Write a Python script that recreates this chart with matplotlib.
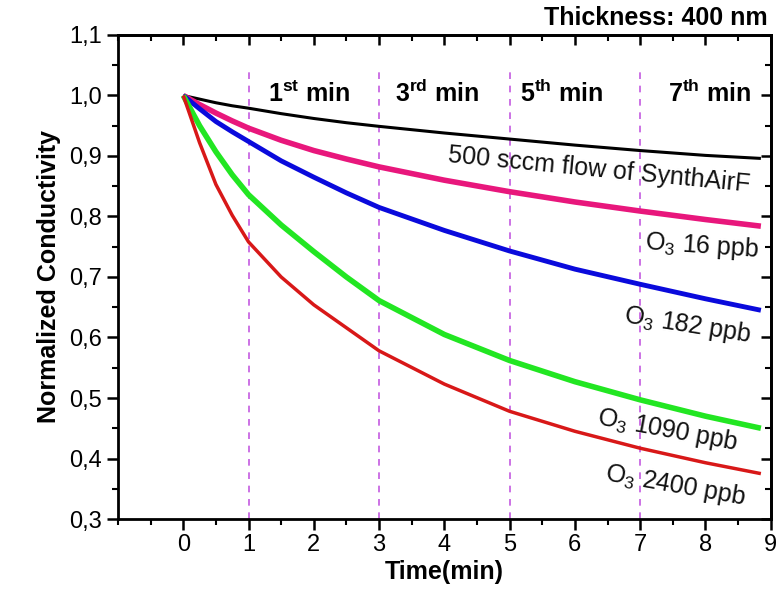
import matplotlib
matplotlib.use("Agg")
import matplotlib.pyplot as plt
from matplotlib.ticker import MultipleLocator, FuncFormatter

plt.rcParams['font.family'] = ['Liberation Sans', 'DejaVu Sans']
plt.rcParams['mathtext.fontset'] = 'custom'
plt.rcParams['mathtext.rm'] = 'Liberation Sans'
plt.rcParams['mathtext.it'] = 'Liberation Sans:italic'
plt.rcParams['mathtext.bf'] = 'Liberation Sans:bold'

# ---- data ----
time = [0, 0.25, 0.5, 0.75, 1, 1.5, 2, 2.5, 3, 4, 5, 6, 7, 8, 8.85]
synth_air = [1.0, 0.994, 0.988, 0.983, 0.979, 0.970, 0.962, 0.955, 0.949, 0.938, 0.928, 0.918, 0.909, 0.901, 0.896]
o3_16 = [1.0, 0.985, 0.971, 0.958, 0.946, 0.926, 0.909, 0.895, 0.882, 0.860, 0.841, 0.824, 0.809, 0.795, 0.784]
o3_182 = [1.0, 0.978, 0.957, 0.940, 0.924, 0.892, 0.865, 0.839, 0.815, 0.777, 0.743, 0.713, 0.688, 0.664, 0.645]
o3_1090 = [1.0, 0.950, 0.907, 0.869, 0.836, 0.786, 0.742, 0.700, 0.661, 0.605, 0.562, 0.527, 0.497, 0.470, 0.450]
o3_2400 = [1.0, 0.922, 0.853, 0.802, 0.758, 0.700, 0.654, 0.616, 0.578, 0.523, 0.478, 0.445, 0.417, 0.393, 0.375]

series = [synth_air, o3_16, o3_182, o3_1090, o3_2400]
colors = ['#000000', '#E8177C', '#0A0ADC', '#22E622', '#D81818']
widths = [2.2, 4.0, 3.5, 4.0, 2.5]

marker_times = [1, 3, 5, 7]
marker_labels = [r"1$^{\mathbf{st}}$ min", r"3$^{\mathbf{rd}}$ min",
                 r"5$^{\mathbf{th}}$ min", r"7$^{\mathbf{th}}$ min"]
marker_label_x = [1.93, 3.89, 5.8, 8.06]

curve_labels = ["500 sccm flow of SynthAirF", r"O$_3$ 16 ppb", r"O$_3$ 182 ppb",
                r"O$_3$ 1090 ppb", r"O$_3$ 2400 ppb"]
curve_label_x = [6.37, 7.95, 7.72, 7.42, 7.54]
curve_label_y = [0.877, 0.751, 0.621, 0.447, 0.356]
curve_label_rot = [-5.6, -4.0, -9.0, -10.5, -10.0]

xticks = list(range(0, 10))
yticks = [0.3, 0.4, 0.5, 0.6, 0.7, 0.8, 0.9, 1.0, 1.1]

fig = plt.figure(figsize=(7.84, 5.92), dpi=100)
ax = fig.add_axes([0.1505, 0.1233, 0.8325, 0.8176])

for t in marker_times:
    ax.plot([t, t], [0.3, 1.048], color='#C45AE0', lw=1.2, ls=(0, (4, 4)), zorder=1)

for s, c, w in zip(series, colors, widths):
    ax.plot(time, s, color=c, lw=w, solid_capstyle='butt', solid_joinstyle='round', zorder=3)

for lab, x in zip(marker_labels, marker_label_x):
    ax.text(x, 0.99, lab, ha='center', va='baseline', fontsize=18, fontweight='bold')

for lab, x, y, r in zip(curve_labels, curve_label_x, curve_label_y, curve_label_rot):
    ax.text(x, y, lab, ha='center', va='center', rotation=r, rotation_mode='anchor',
            fontsize=18, color='#111111', zorder=4)

ax.set_xlim(-1, 9)
ax.set_ylim(0.3, 1.1)
ax.set_xticks(xticks)
ax.set_yticks(yticks)
ax.xaxis.set_minor_locator(MultipleLocator(0.5))
ax.yaxis.set_minor_locator(MultipleLocator(0.05))
ax.yaxis.set_major_formatter(FuncFormatter(lambda v, p: f"{v:.1f}".replace('.', ',')))

for sp in ax.spines.values():
    sp.set_linewidth(2.0)

ax.tick_params(axis='both', which='major', direction='out', length=8, width=1.8,
               labelsize=17, top=False, right=False)
ax.tick_params(axis='both', which='minor', direction='out', length=4, width=1.5,
               top=False, right=False)
ax.tick_params(axis='x', pad=3)

# mirrored inward ticks on top and right
axt = ax.secondary_xaxis('top')
axt.set_xticks(xticks)
axt.xaxis.set_minor_locator(MultipleLocator(0.5))
axt.tick_params(which='major', direction='in', length=7, width=1.8, labeltop=False)
axt.tick_params(which='minor', direction='in', length=4, width=1.5)
axt.set_xticklabels([])
axr = ax.secondary_yaxis('right')
axr.set_yticks(yticks)
axr.yaxis.set_minor_locator(MultipleLocator(0.05))
axr.tick_params(which='major', direction='in', length=7, width=1.8)
axr.tick_params(which='minor', direction='in', length=4, width=1.5)
axr.set_yticklabels([])
for a in (axt, axr):
    for sp in a.spines.values():
        sp.set_linewidth(2.0)

ax.set_xlabel("Time(min)", fontsize=18, fontweight='bold', labelpad=3)
ax.set_ylabel("Normalized Conductivity", fontsize=18, fontweight='bold', labelpad=6)

fig.text(0.979, 0.97, "Thickness: 400 nm", ha='right', va='center',
         fontsize=18, fontweight='bold')

fig.savefig("out.png", dpi=100)
